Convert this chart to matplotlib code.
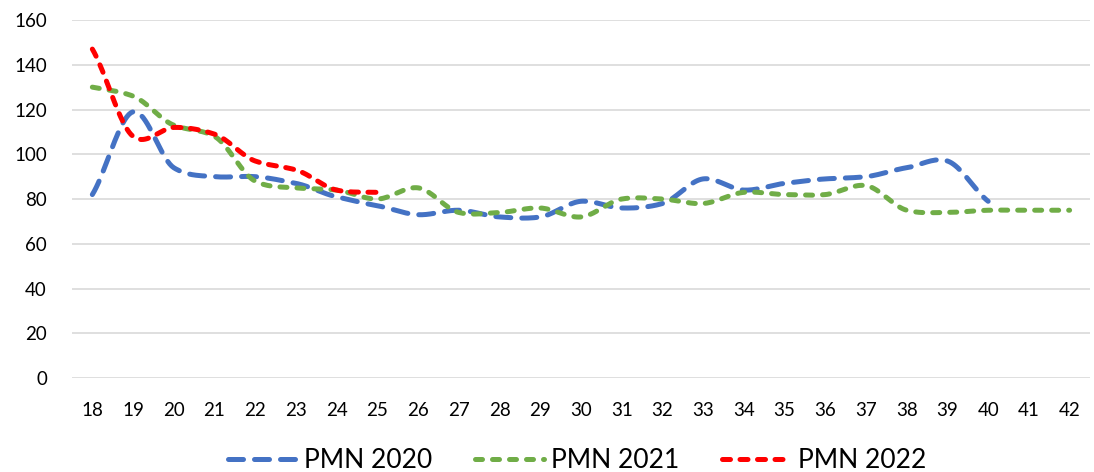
import numpy as np
import matplotlib
matplotlib.use("Agg")
import matplotlib.pyplot as plt

plt.rcParams['font.family'] = ['Lato', 'DejaVu Sans']

weeks = list(range(18, 43))

pmn_2020 = [82, 119, 94, 90, 90, 87, 81, 77, 73, 75, 72, 72, 79, 76, 78,
            89, 84, 87, 89, 90, 94, 97, 79]
pmn_2021 = [130, 126, 113, 108, 88, 85, 84, 80, 85, 74, 74, 76, 72, 80, 80,
            78, 83, 82, 82, 86, 75, 74, 75, 75, 75]
pmn_2022 = [147, 108, 112, 109, 97, 93, 84, 83]


def smooth(x, y, k=0.8, n=20):
    # hermite smoothing, roughly like excel's "smoothed line"
    x = np.asarray(x, float)
    y = np.asarray(y, float)
    py = np.concatenate([[2 * y[0] - y[1]], y, [2 * y[-1] - y[-2]]])
    xs, ys = [], []
    t = np.linspace(0, 1, n, endpoint=False)
    h00 = 2 * t**3 - 3 * t**2 + 1
    h10 = t**3 - 2 * t**2 + t
    h01 = -2 * t**3 + 3 * t**2
    h11 = t**3 - t**2
    for i in range(1, len(py) - 2):
        p0, p1, p2, p3 = py[i - 1], py[i], py[i + 1], py[i + 2]
        m1 = (p2 - p0) / 2 * k
        m2 = (p3 - p1) / 2 * k
        ys.extend(h00 * p1 + h10 * m1 + h01 * p2 + h11 * m2)
        xs.extend(x[i - 1] + t * (x[i] - x[i - 1]))
    xs.append(x[-1])
    ys.append(y[-1])
    return np.array(xs), np.array(ys)


fig = plt.figure(figsize=(10.94, 4.72), dpi=100)
ax = fig.add_axes([0.0658, 0.199, 0.9305, 0.7586])

series = [
    ("PMN 2020", pmn_2020, "#4472C4", (0, (3.0, 2.2))),
    ("PMN 2021", pmn_2021, "#70AD47", (0, (1.4, 2.0))),
    ("PMN 2022", pmn_2022, "#FF0000", (0, (1.6, 1.9))),
]
for label, vals, color, ls in series:
    xs, ys = smooth(weeks[:len(vals)], vals)
    ax.plot(xs, ys, color=color, lw=3.6, linestyle=ls,
            dash_capstyle='round', solid_capstyle='round', label=label)

ax.set_xlim(17.5, 42.5)
ax.set_ylim(0, 160)
ax.set_yticks(range(0, 161, 20))
ax.set_xticks(weeks)
ax.grid(axis='y', color='#D9D9D9', lw=1.2)
ax.set_axisbelow(True)
for s in ax.spines.values():
    s.set_visible(False)
ax.tick_params(length=0, labelsize=13.5, colors='black')
ax.tick_params(axis='y', pad=18)
ax.tick_params(axis='x', pad=17)

leg = fig.legend(loc='center', bbox_to_anchor=(0.5274, 0.024), ncol=3,
                 frameon=False, fontsize=19, handlelength=2.65,
                 columnspacing=1.6, handletextpad=0.25, borderpad=0)

fig.savefig("out.png", dpi=100)
